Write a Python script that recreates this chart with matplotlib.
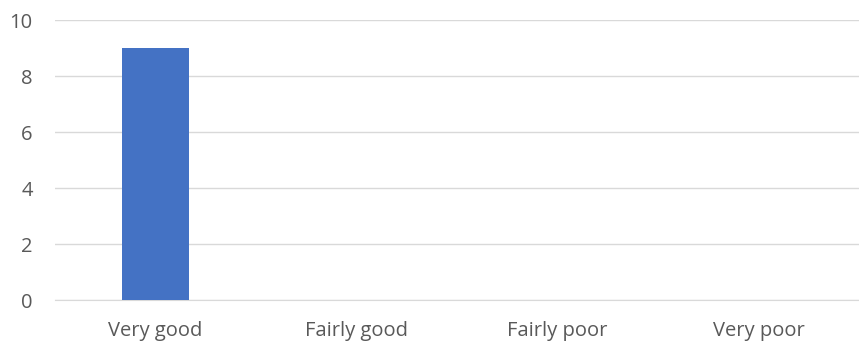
import matplotlib.pyplot as plt

categories = ["Very good", "Fairly good", "Fairly poor", "Very poor"]
counts = [9, 0, 0, 0]
y_ticks = [0, 2, 4, 6, 8, 10]

plt.rcParams['font.family'] = ['Open Sans', 'DejaVu Sans']

fig = plt.figure(figsize=(8.59, 3.49), dpi=100)
ax = fig.add_axes([55 / 859, 49 / 349, 804 / 859, 280 / 349])

x = range(len(categories))
ax.bar(x, counts, width=0.33, color="#4472C4", zorder=3)

ax.set_xlim(-0.5, len(categories) - 0.5)
ax.set_ylim(0, 10)
ax.set_yticks(y_ticks)
ax.set_xticks(list(x))
ax.set_xticklabels(categories)

ax.grid(axis="y", color="#D9D9D9", linewidth=1, zorder=0)
for side in ["top", "right", "left"]:
    ax.spines[side].set_visible(False)
ax.spines["bottom"].set_color("#D9D9D9")
ax.tick_params(axis="both", length=0, labelsize=14.5, labelcolor="#595959")
ax.tick_params(axis="y", pad=16)
ax.tick_params(axis="x", pad=15)

fig.savefig("out.png", dpi=100)
